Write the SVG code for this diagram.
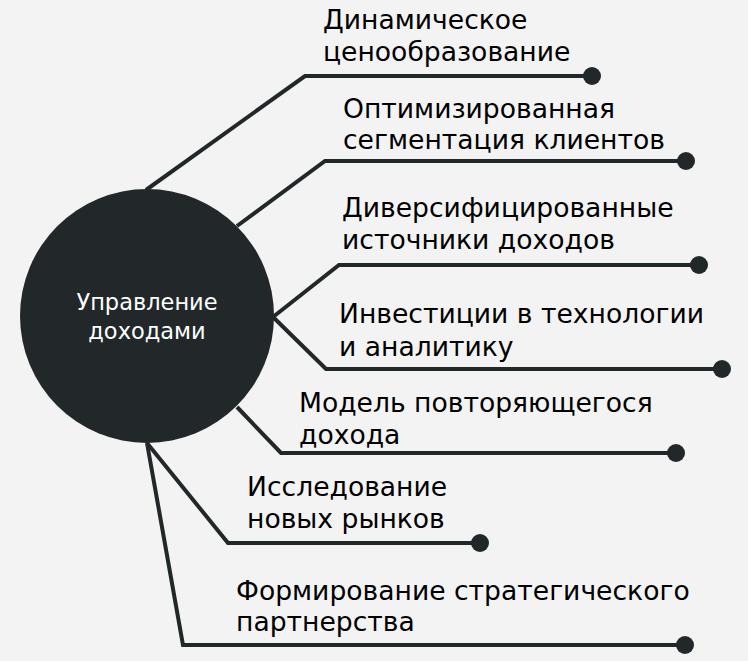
<svg xmlns="http://www.w3.org/2000/svg" width="748" height="661" viewBox="0 0 748 661">
<style>
.bg{fill:#f3f3f3}
.ln{fill:none;stroke:#222829;stroke-width:4;stroke-linejoin:miter}
.dot{fill:#222829}
.t{font-family:"DejaVu Sans",Verdana,sans-serif;font-size:26.6px;fill:#000}
.c{font-family:"DejaVu Sans",Verdana,sans-serif;font-size:22.5px;fill:#fff;text-anchor:middle}
</style>
<rect class="bg" x="0" y="0" width="748" height="661"/>
<g id="connectors">
<polyline class="ln" points="146,190 305,76 592,76"/>
<polyline class="ln" points="237,226 325,161 686,161"/>
<polyline class="ln" points="273,317 339,265 699,265"/>
<polyline class="ln" points="273,317 326,369 722,369"/>
<polyline class="ln" points="237,407 281,453 676,453"/>
<polyline class="ln" points="147,443 228,543 480,543"/>
<polyline class="ln" points="147,443 183,645 685,645"/>
<circle class="dot" cx="592" cy="76" r="9"/>
<circle class="dot" cx="686" cy="161" r="9"/>
<circle class="dot" cx="699" cy="265" r="9"/>
<circle class="dot" cx="722" cy="369" r="9"/>
<circle class="dot" cx="676" cy="453" r="9"/>
<circle class="dot" cx="480" cy="543" r="9"/>
<circle class="dot" cx="685" cy="645" r="9"/>
</g>
<g id="center">
<circle cx="147" cy="316" r="127" fill="#222829"/>
<text class="c" x="147" y="310">Управление</text>
<text class="c" x="147" y="339">доходами</text>
</g>
<g id="n1"><text class="t" x="323" y="29">Динамическое</text><text class="t" x="323" y="61">ценообразование</text></g>
<g id="n2"><text class="t" x="343" y="118">Оптимизированная</text><text class="t" x="343" y="149">сегментация клиентов</text></g>
<g id="n3"><text class="t" x="342" y="217">Диверсифицированные</text><text class="t" x="342" y="249">источники доходов</text></g>
<g id="n4"><text class="t" x="339" y="323">Инвестиции в технологии</text><text class="t" x="339" y="356">и аналитику</text></g>
<g id="n5"><text class="t" x="299" y="412">Модель повторяющегося</text><text class="t" x="299" y="444">дохода</text></g>
<g id="n6"><text class="t" x="247" y="496">Исследование</text><text class="t" x="247" y="528">новых рынков</text></g>
<g id="n7"><text class="t" x="236" y="600">Формирование стратегического</text><text class="t" x="236" y="631">партнерства</text></g>
</svg>
